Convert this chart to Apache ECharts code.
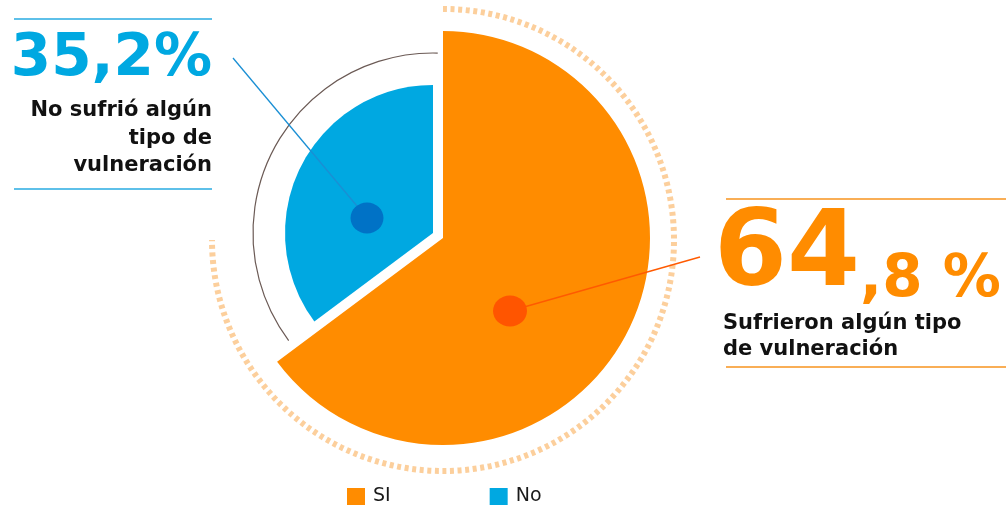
<!DOCTYPE html>
<html>
<head>
<meta charset="utf-8">
<script src="https://cdn.jsdelivr.net/npm/echarts@6/dist/echarts.min.js"></script>
<style>
  html,body{margin:0;padding:0;background:#fff;}
  #chart{width:1006px;height:506px;}
</style>
</head>
<body>
<div id="chart"></div>
<script>
// ---- data ----
const categories = ['SI', 'No'];
const values = [64.8, 35.2];
const descriptions = ['Sufrieron algún tipo\nde vulneración', 'No sufrió algún\ntipo de\nvulneración'];
const colors = ['#FF8C00', '#00A8E1'];

const FONT = '"DejaVu Sans", sans-serif';
const chart = echarts.init(document.getElementById('chart'));

function splitNum(v) {
  const s = v.toFixed(1).split('.');
  return [s[0], s[1]];
}

const orangeParts = splitNum(values[0]);
const blueParts = splitNum(values[1]);

const option = {
  animation: false,
  tooltip: { show: false },
  legend: {
    data: [
      { name: categories[0], itemStyle: { color: colors[0] } },
      { name: categories[1], itemStyle: { color: colors[1] } }
    ],
    left: 342, top: 482,
    icon: 'rect', itemWidth: 18, itemHeight: 17, itemGap: 99,
    selectedMode: false,
    textStyle: { fontFamily: FONT, fontSize: 19, color: '#1a1a1a', padding: [0, 0, 0, 3] }
  },
  graphic: [
    // dotted outer arc around the "SI" slice
    { type: 'arc', z: 1, shape: { cx: 443, cy: 240, r: 231, startAngle: -Math.PI / 2, endAngle: Math.PI, clockwise: true },
      style: { fill: null, stroke: '#FCCF9C', lineWidth: 6, lineDash: [4, 3.6] } },
    // thin arc around the "No" slice
    { type: 'arc', z: 1, shape: { cx: 433, cy: 233, r: 180, startAngle: 143.3 * Math.PI / 180, endAngle: 271.5 * Math.PI / 180, clockwise: true },
      style: { fill: null, stroke: '#6b5a55', lineWidth: 1.2 } },
    // separator lines (left)
    { type: 'line', shape: { x1: 14, y1: 19, x2: 212, y2: 19 }, style: { stroke: '#29ABE2', lineWidth: 1.6 } },
    { type: 'line', shape: { x1: 14, y1: 189, x2: 212, y2: 189 }, style: { stroke: '#29ABE2', lineWidth: 1.6 } },
    // separator lines (right)
    { type: 'line', shape: { x1: 726, y1: 199, x2: 1006, y2: 199 }, style: { stroke: '#F7931E', lineWidth: 1.6 } },
    { type: 'line', shape: { x1: 726, y1: 367, x2: 1006, y2: 367 }, style: { stroke: '#F7931E', lineWidth: 1.6 } },
    // leader lines
    { type: 'line', z: 99, shape: { x1: 367, y1: 218, x2: 233, y2: 58 }, style: { stroke: '#1A8FD4', lineWidth: 1.3 } },
    { type: 'line', z: 99, shape: { x1: 510, y1: 311, x2: 700, y2: 257 }, style: { stroke: '#FF5A00', lineWidth: 1.3 } },
    // label dots
    { type: 'ellipse', z: 100, shape: { cx: 367, cy: 218, rx: 16.5, ry: 15.5 }, style: { fill: '#0072C6' } },
    { type: 'ellipse', z: 100, shape: { cx: 510, cy: 311, rx: 17, ry: 15.5 }, style: { fill: '#FF5500' } }
  ],
  series: [
    {
      type: 'pie',
      center: [443, 238],
      radius: 207,
      startAngle: 90,
      clockwise: true,
      avoidLabelOverlap: false,
      emphasis: { disabled: true },
      label: {
        show: true,
        position: 'outside',
        fontFamily: FONT,
        formatter: () => '{big|' + orangeParts[0] + '}{sm|,' + orangeParts[1] + ' %}\n' +
          descriptions[0].split('\n').map(t => '{d|' + t + '}').join('\n'),
        rich: {
          big: { fontFamily: FONT, fontWeight: 'bold', fontSize: 105, lineHeight: 118, color: colors[0], verticalAlign: 'bottom' },
          sm: { fontFamily: FONT, fontWeight: 'bold', fontSize: 58, lineHeight: 86, color: colors[0], verticalAlign: 'bottom' },
          d: { fontFamily: FONT, fontWeight: 'bold', fontSize: 21, lineHeight: 26.5, color: '#111', padding: [0, 0, 0, 9] }
        }
      },
      labelLine: { show: false },
      labelLayout: () => ({ x: 714, y: 192, align: 'left', verticalAlign: 'top' }),
      data: [
        { name: categories[0], value: values[0], itemStyle: { color: colors[0] } },
        { name: '_rest1', value: values[1], itemStyle: { color: 'rgba(0,0,0,0)' },
          label: { show: false }, labelLine: { show: false }, silent: true }
      ]
    },
    {
      type: 'pie',
      center: [433, 233],
      radius: 148,
      startAngle: 90,
      clockwise: true,
      avoidLabelOverlap: false,
      emphasis: { disabled: true },
      label: {
        show: true,
        position: 'outside',
        fontFamily: FONT,
        formatter: () => '{big|' + blueParts[0] + ',' + blueParts[1] + '%}\n' +
          descriptions[1].split('\n').map(t => '{d|' + t + '}').join('\n'),
        rich: {
          big: { fontFamily: FONT, fontWeight: 'bold', fontSize: 58, lineHeight: 74, color: colors[1] },
          d: { fontFamily: FONT, fontWeight: 'bold', fontSize: 21, lineHeight: 27.5, color: '#111' }
        }
      },
      labelLine: { show: false },
      labelLayout: () => ({ x: 212, y: 23, align: 'right', verticalAlign: 'top' }),
      data: [
        { name: '_rest2', value: values[0], itemStyle: { color: 'rgba(0,0,0,0)' },
          label: { show: false }, labelLine: { show: false }, silent: true },
        { name: categories[1], value: values[1], itemStyle: { color: colors[1] } }
      ]
    }
  ]
};
chart.setOption(option);
</script>
</body>
</html>
